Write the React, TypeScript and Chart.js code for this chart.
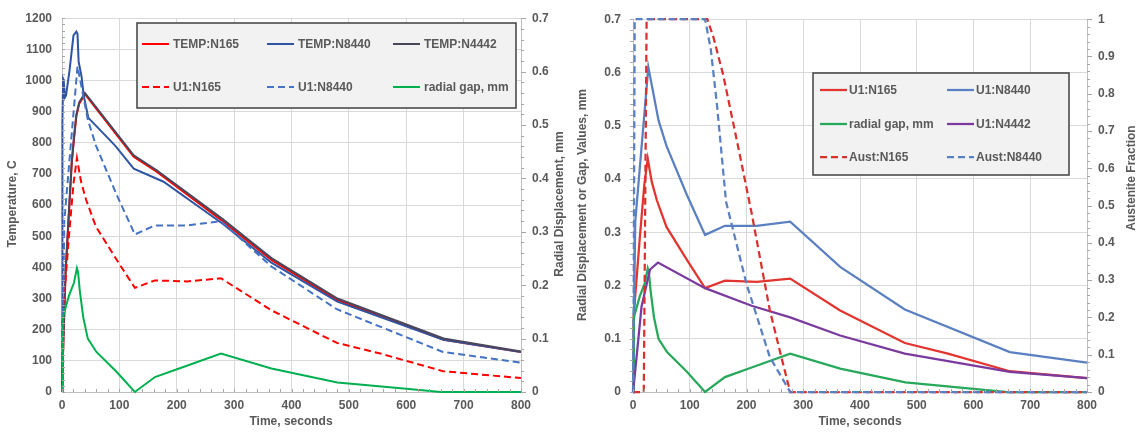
import React, { useEffect, useRef } from 'react';
import { Chart, registerables } from 'chart.js';

Chart.register(...registerables);

const FONT_FAMILY = '"Liberation Sans", Arial, Helvetica, sans-serif';
const TEXT_COLOR = '#595959';
const GRID_COLOR = '#d9d9d9';
const AXIS_COLOR = '#bfbfbf';
const TICK_COLOR = '#a6a6a6';

// ---------- shared time axis (seconds) ----------
const timeMin = 0;
const timeMax = 800;
const timeStep = 100;

// ---------- left panel: temperatures (C) ----------
const tempN165Time = [0, 3, 6, 9, 12, 17, 21, 25, 30, 40, 125, 165, 280, 365, 480, 665, 800];
const tempN165Vals = [20, 190, 370, 470, 570, 735, 815, 885, 925, 956, 755, 707, 548, 424, 295, 168, 128];

const tempN8440Time = [0, 0.7, 2, 3, 5, 7, 13, 20, 25, 27, 29, 34, 38, 46, 93, 125, 177, 280, 365, 480, 665, 800];
const tempN8440Vals = [20, 870, 1005, 1000, 945, 952, 1030, 1145, 1157, 1150, 1060, 1014, 950, 880, 790, 717, 675, 540, 415, 290, 168, 128];

const tempN4442Time = [0, 3, 6, 9, 12, 17, 21, 25, 30, 40, 125, 165, 280, 365, 480, 665, 800];
const tempN4442Vals = [20, 200, 380, 480, 580, 740, 820, 890, 930, 960, 760, 712, 555, 430, 300, 172, 130];

// ---------- radial displacement / gap (mm), shared by both panels ----------
const u1N165Time = [0, 1, 12, 20, 26, 33, 42, 59, 95, 127, 162, 218, 277, 365, 479, 555, 664, 800];
const u1N165Vals = [0, 0.14, 0.29, 0.39, 0.438, 0.395, 0.36, 0.31, 0.248, 0.195, 0.209, 0.207, 0.213, 0.153, 0.092, 0.072, 0.039, 0.026];

const u1N8440Time = [0, 4, 27, 33, 45, 59, 95, 127, 162, 218, 277, 365, 479, 664, 800];
const u1N8440Vals = [0, 0.32, 0.61, 0.577, 0.51, 0.462, 0.37, 0.295, 0.312, 0.312, 0.32, 0.235, 0.155, 0.075, 0.055];

const gapTime = [0, 1.5, 12, 21, 26, 28, 31, 37, 45, 60, 95, 127, 162, 209, 277, 365, 480, 600, 660, 800];
const gapVals = [0, 0.14, 0.18, 0.205, 0.232, 0.225, 0.19, 0.14, 0.1, 0.075, 0.038, 0, 0.028, 0.046, 0.072, 0.044, 0.018, 0.006, 0, 0];

const u1N4442Time = [0, 3, 15, 30, 44, 127, 209, 277, 365, 479, 664, 800];
const u1N4442Vals = [0, 0.03, 0.16, 0.23, 0.243, 0.195, 0.162, 0.14, 0.106, 0.072, 0.038, 0.026];

// ---------- austenite fraction (0..1) ----------
const austN165Time = [0, 19, 24, 131, 142, 159, 185, 209, 241, 262, 277, 800];
const austN165Vals = [0, 0, 1, 1, 0.95, 0.85, 0.66, 0.48, 0.22, 0.09, 0, 0];

const austN8440Time = [0, 0.5, 3, 127, 137, 148, 164, 200, 241, 277, 800];
const austN8440Vals = [0, 0, 1, 1, 0.92, 0.77, 0.51, 0.29, 0.094, 0, 0];

// ---------- axis ranges ----------
const tempMax = 1200;
const tempStep = 100;
const mmMax = 0.7;
const mmStep = 0.1;
const fracMax = 1;
const fracStep = 0.1;

const pts = (t: number[], v: number[]) => t.map((x, i) => ({ x, y: v[i] }));
const fmt1 = (v: any) => String(parseFloat(Number(v).toFixed(1)));
const fmt0 = (v: any) => String(Math.round(Number(v)));

const tickFont = { family: FONT_FAMILY, size: 12, weight: 'bold' as const };

type TickDef = { axis: string; step: number; majorEvery: number; side: 'left' | 'right' | 'bottom'; dir: number; len: number; majorLen: number };
type Decor = {
  titles: { text: string; x: number; y: number; rot: number }[];
  ticks: TickDef[];
  legend: { box: [number, number, number, number]; lineLen: number; gap: number; items: { ds: number; x: number; y: number }[] };
};

function makeDecorPlugin(id: string, decor: Decor) {
  return {
    id,
    afterDraw(chart: any) {
      const ctx = chart.ctx as CanvasRenderingContext2D;
      const area = chart.chartArea;
      ctx.save();
      // axis tick marks (major + minor)
      ctx.strokeStyle = TICK_COLOR;
      ctx.lineWidth = 1;
      ctx.setLineDash([]);
      for (const m of decor.ticks) {
        const sc = chart.scales[m.axis];
        const n = Math.round((sc.max - sc.min) / m.step);
        for (let i = 0; i <= n; i++) {
          const v = sc.min + i * m.step;
          const len = i % m.majorEvery === 0 ? m.majorLen : m.len;
          const p = Math.round(sc.getPixelForValue(v)) + 0.5;
          ctx.beginPath();
          if (m.side === 'bottom') {
            ctx.moveTo(p, area.bottom);
            ctx.lineTo(p, area.bottom + m.dir * len);
          } else {
            const x0 = m.side === 'left' ? area.left : area.right;
            ctx.moveTo(x0, p);
            ctx.lineTo(x0 + m.dir * len, p);
          }
          ctx.stroke();
        }
      }
      // axis titles
      ctx.fillStyle = TEXT_COLOR;
      ctx.font = `bold 12px ${FONT_FAMILY}`;
      ctx.textAlign = 'center';
      ctx.textBaseline = 'middle';
      for (const t of decor.titles) {
        ctx.save();
        ctx.translate(t.x, t.y);
        ctx.rotate(t.rot);
        ctx.fillText(t.text, 0, 0);
        ctx.restore();
      }
      // legend box
      const L = decor.legend;
      const [bx, by, bw, bh] = L.box;
      ctx.fillStyle = '#f2f2f2';
      ctx.fillRect(bx, by, bw, bh);
      ctx.strokeStyle = '#404040';
      ctx.lineWidth = 1.5;
      ctx.strokeRect(bx, by, bw, bh);
      ctx.textAlign = 'left';
      ctx.textBaseline = 'middle';
      ctx.font = `bold 12px ${FONT_FAMILY}`;
      for (const it of L.items) {
        const ds = chart.data.datasets[it.ds];
        ctx.strokeStyle = ds.borderColor;
        ctx.lineWidth = ds.borderWidth;
        ctx.setLineDash(ds.borderDash || []);
        ctx.beginPath();
        ctx.moveTo(it.x, it.y);
        ctx.lineTo(it.x + L.lineLen, it.y);
        ctx.stroke();
        ctx.setLineDash([]);
        ctx.fillStyle = TEXT_COLOR;
        ctx.fillText(ds.label, it.x + L.lineLen + L.gap, it.y + 0.5);
      }
      ctx.restore();
    },
  };
}

function line(label: string, data: any[], color: string, axis: string, width: number, dash?: number[]) {
  return {
    label,
    data,
    borderColor: color,
    backgroundColor: color,
    borderWidth: width,
    borderDash: dash || [],
    pointRadius: 0,
    pointHoverRadius: 0,
    tension: 0,
    fill: false,
    clip: false as any,
    yAxisID: axis,
  };
}

function withOrder(ds: any[]) {
  return ds.map((d, i) => ({ ...d, order: ds.length - i }));
}

function xScale(height: number) {
  return {
    type: 'linear' as const,
    min: timeMin,
    max: timeMax,
    ticks: { stepSize: timeStep, color: TEXT_COLOR, font: tickFont, padding: 6, maxRotation: 0, autoSkip: false, callback: fmt0 },
    grid: { color: GRID_COLOR, drawTicks: false },
    border: { color: AXIS_COLOR },
    afterFit: (s: any) => { s.height = height; },
  };
}

function leftConfig(): any {
  const datasets = withOrder([
    line('TEMP:N165', pts(tempN165Time, tempN165Vals), '#ff0000', 'y', 2),
    line('TEMP:N8440', pts(tempN8440Time, tempN8440Vals), '#2f55a2', 'y', 2),
    line('TEMP:N4442', pts(tempN4442Time, tempN4442Vals), '#4b4659', 'y', 2),
    line('U1:N165', pts(u1N165Time, u1N165Vals), '#ff0000', 'y1', 2, [7, 4]),
    line('U1:N8440', pts(u1N8440Time, u1N8440Vals), '#4472c4', 'y1', 2, [7, 4]),
    line('radial gap, mm', pts(gapTime, gapVals), '#00b050', 'y1', 2),
  ]);
  const decor: Decor = {
    titles: [
      { text: 'Temperature, C', x: 13, y: 204, rot: -Math.PI / 2 },
      { text: 'Radial Displacement, mm', x: 560, y: 204, rot: -Math.PI / 2 },
      { text: 'Time, seconds', x: 291, y: 422, rot: 0 },
    ],
    ticks: [
      { axis: 'y', step: 20, majorEvery: 5, side: 'left', dir: 1, len: 3, majorLen: 3 },
      { axis: 'x', step: 20, majorEvery: 5, side: 'bottom', dir: -1, len: 3, majorLen: 3 },
      { axis: 'y1', step: 0.02, majorEvery: 5, side: 'right', dir: 1, len: 3, majorLen: 5 },
    ],
    legend: {
      box: [137, 23, 379, 85],
      lineLen: 27,
      gap: 4,
      items: [
        { ds: 0, x: 142, y: 44 },
        { ds: 1, x: 267, y: 44 },
        { ds: 2, x: 393, y: 44 },
        { ds: 3, x: 142, y: 87 },
        { ds: 4, x: 267, y: 87 },
        { ds: 5, x: 393, y: 87 },
      ],
    },
  };
  return {
    type: 'line',
    data: { datasets },
    options: {
      animation: false,
      responsive: false,
      events: [],
      layout: { padding: { top: 15, left: 0, right: 0, bottom: 0 } },
      plugins: { legend: { display: false }, tooltip: { enabled: false } },
      scales: {
        x: xScale(43),
        y: {
          type: 'linear',
          position: 'left',
          min: 0,
          max: tempMax,
          ticks: { stepSize: tempStep, color: TEXT_COLOR, font: tickFont, padding: 10, callback: fmt0 },
          grid: { color: GRID_COLOR, drawTicks: false },
          border: { color: AXIS_COLOR },
          afterFit: (s: any) => { s.width = 62; },
        },
        y1: {
          type: 'linear',
          position: 'right',
          min: 0,
          max: mmMax,
          ticks: { stepSize: mmStep, color: TEXT_COLOR, font: tickFont, padding: 11, callback: fmt1 },
          grid: { drawOnChartArea: false, drawTicks: false },
          border: { color: AXIS_COLOR },
          afterFit: (s: any) => { s.width = 49; },
        },
      },
    },
    plugins: [makeDecorPlugin('leftDecor', decor)],
  };
}

function rightConfig(): any {
  const datasets = withOrder([
    line('U1:N165', pts(u1N165Time, u1N165Vals), '#e2352f', 'y', 2.25),
    line('U1:N8440', pts(u1N8440Time, u1N8440Vals), '#5b80c2', 'y', 2.25),
    line('radial gap, mm', pts(gapTime, gapVals), '#27a85a', 'y', 2.25),
    line('U1:N4442', pts(u1N4442Time, u1N4442Vals), '#7a3a9e', 'y', 2.25),
    line('Aust:N165', pts(austN165Time, austN165Vals), '#d8312e', 'y1', 2.25, [7, 4]),
    line('Aust:N8440', pts(austN8440Time, austN8440Vals), '#5b80c2', 'y1', 2.25, [7, 4]),
  ]);
  const decor: Decor = {
    titles: [
      { text: 'Radial Displacement or Gap, Values, mm', x: 13, y: 205, rot: -Math.PI / 2 },
      { text: 'Austenite Fraction', x: 562, y: 178, rot: -Math.PI / 2 },
      { text: 'Time, seconds', x: 290, y: 422, rot: 0 },
    ],
    ticks: [
      { axis: 'y', step: 0.02, majorEvery: 5, side: 'left', dir: -1, len: 3, majorLen: 3 },
      { axis: 'x', step: 20, majorEvery: 5, side: 'bottom', dir: -1, len: 3, majorLen: 3 },
      { axis: 'y1', step: 0.02, majorEvery: 5, side: 'right', dir: 1, len: 3, majorLen: 5 },
    ],
    legend: {
      box: [243, 73, 256, 102],
      lineLen: 27,
      gap: 2,
      items: [
        { ds: 0, x: 250, y: 90 },
        { ds: 1, x: 377, y: 90 },
        { ds: 2, x: 250, y: 124 },
        { ds: 3, x: 377, y: 124 },
        { ds: 4, x: 250, y: 157 },
        { ds: 5, x: 377, y: 157 },
      ],
    },
  };
  return {
    type: 'line',
    data: { datasets },
    options: {
      animation: false,
      responsive: false,
      events: [],
      layout: { padding: { top: 16, left: 0, right: 0, bottom: 0 } },
      plugins: { legend: { display: false }, tooltip: { enabled: false } },
      scales: {
        x: xScale(43),
        y: {
          type: 'linear',
          position: 'left',
          min: 0,
          max: mmMax,
          ticks: { stepSize: mmStep, color: TEXT_COLOR, font: tickFont, padding: 12, callback: fmt1 },
          grid: { color: GRID_COLOR, drawTicks: false },
          border: { color: AXIS_COLOR },
          afterFit: (s: any) => { s.width = 63; },
        },
        y1: {
          type: 'linear',
          position: 'right',
          min: 0,
          max: fracMax,
          ticks: { stepSize: fracStep, color: TEXT_COLOR, font: tickFont, padding: 11, callback: fmt1 },
          grid: { drawOnChartArea: false, drawTicks: false },
          border: { color: AXIS_COLOR },
          afterFit: (s: any) => { s.width = 52; },
        },
      },
    },
    plugins: [makeDecorPlugin('rightDecor', decor)],
  };
}

function Panel({ make, left, width, height }: { make: () => any; left: number; width: number; height: number }) {
  const ref = useRef<HTMLCanvasElement>(null);
  useEffect(() => {
    if (!ref.current) return;
    const chart = new Chart(ref.current, make());
    return () => chart.destroy();
  }, []);
  return (
    <canvas
      ref={ref}
      width={width}
      height={height}
      style={{ position: 'absolute', left, top: 0, width, height, display: 'block' }}
    />
  );
}

export default function App() {
  return (
    <div style={{ position: 'absolute', left: 0, top: 0, width: 1139, height: 435, background: '#ffffff', overflow: 'hidden' }}>
      <Panel make={leftConfig} left={0} width={570} height={435} />
      <Panel make={rightConfig} left={570} width={569} height={435} />
    </div>
  );
}
